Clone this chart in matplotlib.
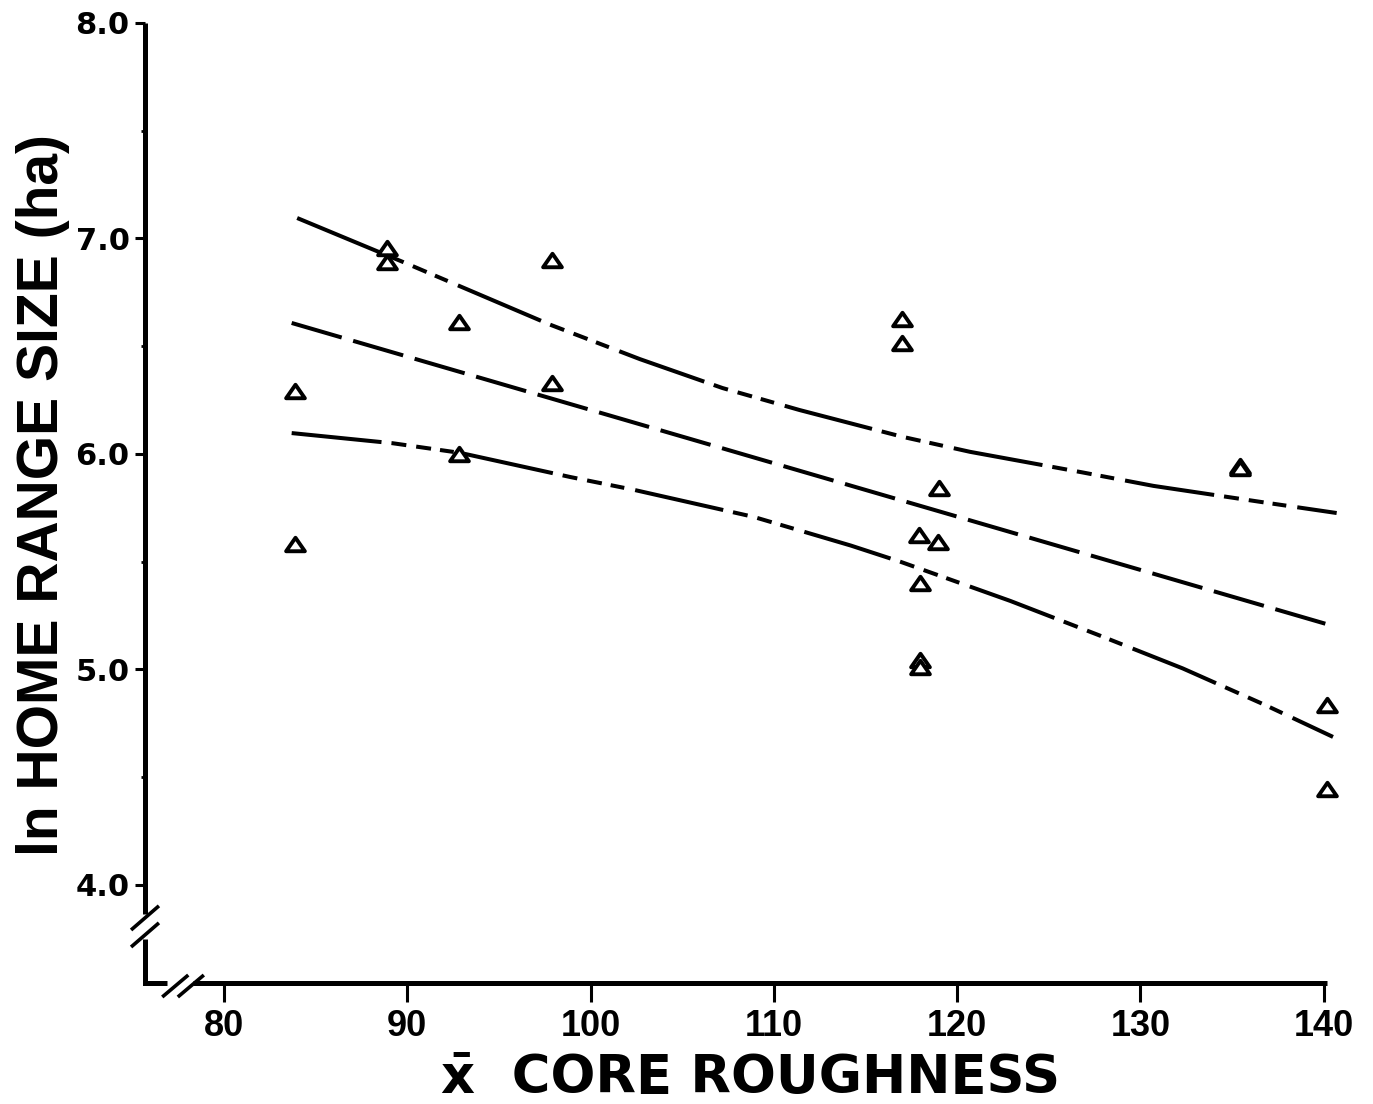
import numpy as np
import matplotlib.pyplot as plt
from matplotlib.path import Path

plt.rcParams['lines.scale_dashes'] = False

# observed ln home range size vs mean core roughness
roughness = [83.9, 83.9, 88.9, 88.9, 92.8, 92.8, 97.9, 97.9, 117.0, 117.0,
             119.0, 117.9, 118.95, 118.0, 118.0, 118.0, 135.4, 135.4, 140.2, 140.2]
ln_range = [6.29, 5.58, 6.956, 6.89, 6.612, 6.0, 6.90, 6.329, 6.626, 6.515,
            5.842, 5.624, 5.592, 5.40, 5.044, 5.012, 5.945, 5.935, 4.835, 4.445]

# regression line
fit_x = [83.7, 140.7]
fit_y = [6.608, 5.197]

# confidence limits
upper_x = [84.0, 89.8, 97.8, 102.7, 107.2, 111.4, 117.0, 120.7, 126.8, 130.7, 136.6, 140.7]
upper_y = [7.095, 6.89, 6.60, 6.44, 6.306, 6.204, 6.08, 6.01, 5.915, 5.852, 5.777, 5.726]
lower_x = [83.7, 89.2, 92.9, 98.9, 102.4, 108.9, 114.2, 116.9, 122.9, 127.7, 132.3, 136.8, 140.5]
lower_y = [6.097, 6.05, 6.005, 5.893, 5.833, 5.708, 5.575, 5.50, 5.318, 5.16, 5.005, 4.835, 4.687]

xticks = [80, 90, 100, 110, 120, 130, 140]
yticks = [4.0, 5.0, 6.0, 7.0, 8.0]
yminor = [4.5, 5.5, 6.5, 7.5]

fig = plt.figure(figsize=(13.73, 11.04), dpi=100)
ax = fig.add_axes([145 / 1373, 121 / 1104, 1193.5 / 1373, 960 / 1104])
xmin, xmax = 75.7, 140.8
ymin, ymax = 3.545, 8.0
ax.set_xlim(xmin, xmax)
ax.set_ylim(ymin, ymax)

# confidence bands: long dash followed by three short ones
band_style = (0, (65, 7.2, 10.8, 7.2, 10.8, 6.5, 10, 8))
ax.plot(upper_x, upper_y, color='black', lw=2.9, linestyle=band_style, clip_on=False)
ax.plot(lower_x, lower_y, color='black', lw=2.9, linestyle=band_style, clip_on=False)
ax.plot(fit_x, fit_y, color='black', lw=2.9, linestyle=(0, (37.5, 8.6)), clip_on=False)

tri = Path([(-1, -0.72), (1, -0.72), (0, 0.72), (-1, -0.72)],
           [Path.MOVETO, Path.LINETO, Path.LINETO, Path.CLOSEPOLY])
ax.plot(roughness, ln_range, linestyle='none', marker=tri, markersize=13.5,
        markerfacecolor='white', markeredgecolor='black', markeredgewidth=2.8,
        clip_on=False, zorder=3)

# axes drawn by hand so the breaks can be shown
for s in ax.spines.values():
    s.set_visible(False)
axis_kw = dict(color='black', lw=3.6, clip_on=False, solid_capstyle='butt',
               solid_joinstyle='miter')
ax.plot([xmin, xmin, 76.9], [3.75, ymin, ymin], **axis_kw)
ax.plot([xmin, xmin], [3.865, ymax], **axis_kw)
ax.plot([78.3, 140.15], [ymin, ymin], **axis_kw)

slash_kw = dict(color='black', lw=2.6, clip_on=False, solid_capstyle='butt')
for yc in [3.847, 3.768]:
    ax.plot([xmin - 0.76, xmin + 0.76], [yc - 0.056, yc + 0.056], **slash_kw)
for xc in [77.35, 78.2]:
    ax.plot([xc - 0.71, xc + 0.71], [ymin - 0.065, ymin + 0.037], **slash_kw)

ax.set_xticks(xticks)
ax.set_xticklabels([str(t) for t in xticks], fontfamily='Liberation Sans',
                   fontweight='bold', fontsize=26)
ax.set_yticks(yticks)
ax.set_yticklabels([f'{t:.1f}' for t in yticks], fontfamily='DejaVu Sans',
                   fontweight='bold', fontsize=22)
ax.set_yticks(yminor, minor=True)
ax.tick_params(axis='x', direction='out', length=14, width=2.2, pad=5)
ax.tick_params(axis='y', which='major', direction='out', length=7, width=2.2, pad=4)
ax.tick_params(axis='y', which='minor', direction='out', length=3, width=2.0)

fig.text(43 / 1373, 1 - 495 / 1104, 'ln HOME RANGE SIZE (ha)', rotation=90,
         ha='center', va='center', fontfamily='Liberation Sans',
         fontweight='bold', fontsize=41)
fig.text(751 / 1373, 1 - 1078 / 1104, 'x\u0304  CORE ROUGHNESS',
         ha='center', va='center', fontfamily='DejaVu Sans',
         fontweight='bold', fontsize=38)

fig.savefig('out.png', dpi=100)
